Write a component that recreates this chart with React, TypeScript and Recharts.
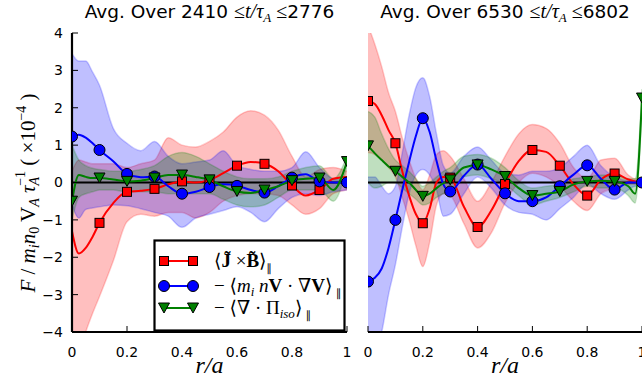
import React from 'react';
import { ComposedChart, Area, Line, XAxis, YAxis, ReferenceLine } from 'recharts';

// ---------- data: left panel (2410 <= t/tauA <= 2776) ----------
const leftR = [0, 0.025, 0.05, 0.075, 0.1, 0.15, 0.2, 0.25, 0.3, 0.35, 0.4, 0.45, 0.5, 0.55, 0.6, 0.65, 0.7, 0.75, 0.8, 0.85, 0.9, 0.95, 1.0];
const leftRed = [-1.3, -1.9, -1.75, -1.45, -1.08, -0.55, -0.25, -0.22, -0.17, -0.05, 0.03, 0.0, 0.07, 0.25, 0.45, 0.55, 0.5, 0.3, -0.08, -0.35, -0.2, 0.1, 0.15];
const leftRedLow = [-5, -4.6, -4.0, -3.5, -3.05, -2.1, -1.05, -0.85, -0.9, -0.8, -0.8, -0.95, -0.8, -0.5, -0.35, -0.3, -0.3, -0.35, -0.6, -0.85, -0.7, -0.3, -0.2];
const leftRedHigh = [0.3, 0.6, 0.55, 0.5, 0.5, 0.5, 0.4, 0.5, 0.6, 1.2, 1.0, 0.95, 1.1, 1.35, 1.75, 1.92, 1.8, 1.4, 0.7, 0.15, 0.35, 0.4, 0.3];
const leftBlue = [1.23, 1.28, 1.2, 1.05, 0.87, 0.57, 0.23, 0.14, 0.16, -0.1, -0.3, -0.25, -0.12, -0.05, -0.09, -0.2, -0.27, -0.1, 0.13, 0.22, 0.03, 0.0, 0.0];
const leftBlueLow = [-0.6, -0.95, -0.72, -0.68, -0.65, -0.6, -0.62, -0.7, -0.8, -0.9, -1.2, -0.95, -0.85, -0.75, -0.65, -0.8, -1.05, -0.7, -0.4, -0.3, -0.35, -0.25, -0.2];
const leftBlueHigh = [3.45, 3.25, 3.25, 2.95, 2.6, 1.45, 1.05, 0.85, 1.1, 0.7, 0.5, 0.55, 0.6, 0.85, 0.45, 0.35, 0.3, 0.3, 0.4, 0.82, 0.4, 0.1, 0.05];
const leftGreen = [-0.5, 0.2, 0.15, 0.12, 0.12, 0.08, 0.03, 0.05, 0.12, 0.2, 0.2, 0.15, 0.07, -0.1, -0.24, -0.28, -0.2, -0.1, 0.05, 0.1, 0.12, -0.2, 0.56];
const leftGreenLow = [-1.0, -0.4, -0.3, -0.25, -0.2, -0.2, -0.25, -0.25, -0.25, -0.3, -0.3, -0.3, -0.3, -0.45, -0.6, -0.65, -0.6, -0.4, -0.2, -0.2, -0.2, -0.5, 0.4];
const leftGreenHigh = [1.0, 0.6, 0.45, 0.38, 0.35, 0.3, 0.3, 0.35, 0.45, 0.7, 0.8, 0.7, 0.5, 0.3, 0.15, 0.1, 0.1, 0.15, 0.3, 0.4, 0.45, 0.1, 0.7];
const leftRedMarks = [0.1, 0.2, 0.3, 0.4, 0.5, 0.6, 0.7, 0.8, 0.9];
const leftBlueMarks = [0, 0.1, 0.2, 0.3, 0.4, 0.5, 0.6, 0.7, 0.8, 0.9, 1.0];
const leftGreenMarks = [0, 0.1, 0.2, 0.3, 0.4, 0.5, 0.6, 0.7, 0.8, 0.9, 1.0];

// ---------- data: right panel (6530 <= t/tauA <= 6802) ----------
const rightR = [0, 0.025, 0.05, 0.075, 0.1, 0.125, 0.15, 0.175, 0.2, 0.225, 0.25, 0.275, 0.3, 0.35, 0.4, 0.45, 0.5, 0.55, 0.6, 0.65, 0.7, 0.75, 0.8, 0.85, 0.9, 0.95, 0.975, 1.0];
const rightRed = [2.18, 2.1, 1.8, 1.4, 1.05, 0.3, -0.35, -0.85, -1.09, -0.7, 0.0, 0.15, 0.13, -0.65, -1.19, -0.75, -0.04, 0.57, 0.87, 0.82, 0.45, -0.05, -0.35, 0.08, 0.24, 0.08, 0.03, 0.0];
const rightRedLow = [0.8, 0.75, 0.6, 0.4, 0.15, -0.4, -1.0, -1.7, -2.25, -1.6, -0.6, -0.3, -0.35, -1.1, -1.75, -1.35, -0.55, 0.0, 0.25, 0.15, -0.1, -0.5, -0.75, -0.3, -0.15, -0.05, -0.05, -0.1];
const rightRedHigh = [4.2, 3.7, 3.1, 2.4, 1.9, 1.2, 0.6, 0.1, -0.2, 0.2, 0.75, 0.85, 0.7, 0.1, -0.5, 0.0, 0.7, 1.3, 1.55, 1.45, 1.05, 0.4, 0.1, 0.6, 0.65, 0.2, 0.1, 0.1];
const rightBlue = [-2.65, -2.55, -2.3, -1.75, -1.0, -0.2, 0.55, 1.25, 1.72, 1.35, 0.58, -0.05, -0.24, 0.18, 0.48, 0.1, -0.29, -0.5, -0.5, -0.4, -0.1, 0.21, 0.46, 0.1, -0.19, 0.0, 0.0, 0.0];
const rightBlueLow = [-4.8, -4.6, -4.0, -3.0, -2.2, -1.2, -0.3, 0.2, 0.35, 0.2, -0.2, -0.9, -0.85, -0.3, 0.15, -0.15, -0.6, -0.8, -0.85, -1.0, -0.7, -0.4, -0.05, -0.3, -0.45, -0.2, -0.1, -0.1];
const rightBlueHigh = [0.15, 0.15, -0.1, -0.3, -0.1, 0.8, 1.8, 2.55, 2.8, 2.3, 1.3, 0.45, 0.25, 0.7, 0.95, 0.6, 0.25, 0.2, 0.3, 0.3, 0.4, 0.7, 1.0, 0.45, 0.15, 0.05, 0.05, 0.05];
const rightGreen = [0.98, 0.78, 0.6, 0.43, 0.3, 0.15, 0.0, -0.2, -0.37, -0.3, -0.15, -0.02, 0.07, 0.4, 0.47, 0.35, 0.16, -0.15, -0.35, -0.3, -0.24, -0.05, 0.03, 0.05, 0.03, -0.1, -0.3, 2.26];
const rightGreenLow = [0.0, -0.15, -0.1, 0.0, 0.0, -0.15, -0.3, -0.45, -0.6, -0.55, -0.4, -0.3, -0.2, 0.15, 0.2, 0.1, -0.05, -0.35, -0.6, -0.5, -0.4, -0.25, -0.1, -0.15, -0.15, -0.35, -0.55, 2.0];
const rightGreenHigh = [1.9, 1.75, 1.3, 0.9, 0.6, 0.45, 0.3, 0.1, -0.1, 0.0, 0.15, 0.3, 0.4, 0.7, 0.75, 0.65, 0.4, 0.05, -0.15, -0.1, -0.05, 0.1, 0.15, 0.2, 0.2, 0.1, 0.1, 2.5];
const rightRedMarks = [0, 0.1, 0.2, 0.3, 0.4, 0.5, 0.6, 0.7, 0.8, 0.9];
const rightBlueMarks = [0, 0.1, 0.2, 0.3, 0.4, 0.5, 0.6, 0.7, 0.8, 0.9, 1.0];
const rightGreenMarks = [0, 0.1, 0.2, 0.3, 0.4, 0.5, 0.6, 0.7, 0.8, 0.9, 1.0];

// ---------- axes / text ----------
const xTicks = [0, 0.2, 0.4, 0.6, 0.8, 1];
const yTicks = [-4, -3, -2, -1, 0, 1, 2, 3, 4];
const leftTitleRange = ['2410', '2776'];
const rightTitleRange = ['6530', '6802'];

const RED = '#ff0000';
const BLUE = '#0000ff';
const GREEN = '#008000';
const SERIF = '"Liberation Serif", "DejaVu Serif", serif';
const SANS = '"DejaVu Sans", sans-serif';

type Row = Record<string, any>;

function buildRows(
  r: number[], red: number[], redLo: number[], redHi: number[],
  blue: number[], blueLo: number[], blueHi: number[],
  green: number[], greenLo: number[], greenHi: number[],
): Row[] {
  return r.map((x, i) => ({
    r: x,
    red: red[i], redBand: [redLo[i], redHi[i]],
    blue: blue[i], blueBand: [blueLo[i], blueHi[i]],
    green: green[i], greenBand: [greenLo[i], greenHi[i]],
  }));
}

const leftRows = buildRows(leftR, leftRed, leftRedLow, leftRedHigh, leftBlue, leftBlueLow, leftBlueHigh, leftGreen, leftGreenLow, leftGreenHigh);
const rightRows = buildRows(rightR, rightRed, rightRedLow, rightRedHigh, rightBlue, rightBlueLow, rightBlueHigh, rightGreen, rightGreenLow, rightGreenHigh);

function Marker({ kind, cx, cy }: { kind: string; cx: number; cy: number }) {
  if (kind === 'square') {
    return <rect x={cx - 4.5} y={cy - 4.5} width={9} height={9} fill={RED} stroke="#000" strokeWidth={1} />;
  }
  if (kind === 'circle') {
    return <circle cx={cx} cy={cy} r={5.5} fill={BLUE} stroke="#000" strokeWidth={1} />;
  }
  return (
    <polygon
      points={`${cx - 5.5},${cy - 5} ${cx + 5.5},${cy - 5} ${cx},${cy + 5}`}
      fill={GREEN}
      stroke="#000"
      strokeWidth={1}
    />
  );
}

const makeDot = (marks: number[], kind: string, tag: string) => (props: any) => {
  const { cx, cy, payload, index } = props;
  const key = `${tag}-${index}`;
  if (cx == null || cy == null || !payload || !marks.some((m) => Math.abs(m - payload.r) < 1e-6)) {
    return <g key={key} />;
  }
  return (
    <g key={key}>
      <Marker kind={kind} cx={cx} cy={cy} />
    </g>
  );
};

const fmtY = (v: number) => (v < 0 ? `\u2212${Math.abs(v)}` : `${v}`);
const fmtX = (v: number) => `${v}`;
const blank = () => '';

function Panel(props: {
  rows: Row[]; left: number; width: number; marginLeft: number; marginRight: number;
  yAxisWidth: number; showY: boolean; marks: number[][]; tag: string;
}) {
  const { rows, left, width, marginLeft, marginRight, yAxisWidth, showY, marks, tag } = props;
  const tickFont = { fontSize: 14, fill: '#000', fontFamily: SANS };
  const axisLine = { stroke: '#000', strokeWidth: 2.2 };
  const tickLine = { stroke: '#000', strokeWidth: 1 };
  return (
    <div style={{ position: 'absolute', left, top: 0 }}>
      <ComposedChart
        width={width}
        height={388}
        data={rows}
        margin={{ top: 33, right: marginRight, bottom: 26, left: marginLeft }}
      >
        <Area type="monotone" dataKey="redBand" fill={RED} fillOpacity={0.25} stroke={RED} strokeOpacity={0.2} strokeWidth={1.5} isAnimationActive={false} dot={false} activeDot={false} />
        <Area type="monotone" dataKey="blueBand" fill={BLUE} fillOpacity={0.25} stroke={BLUE} strokeOpacity={0.2} strokeWidth={1.5} isAnimationActive={false} dot={false} activeDot={false} />
        <Area type="monotone" dataKey="greenBand" fill={GREEN} fillOpacity={0.25} stroke={GREEN} strokeOpacity={0.2} strokeWidth={1.5} isAnimationActive={false} dot={false} activeDot={false} />
        <ReferenceLine y={0} stroke="#000" strokeWidth={2.2} />
        <Line type="monotone" dataKey="red" stroke={RED} strokeWidth={2} dot={makeDot(marks[0], 'square', tag + 'r')} activeDot={false} isAnimationActive={false} />
        <Line type="monotone" dataKey="blue" stroke={BLUE} strokeWidth={2} dot={makeDot(marks[1], 'circle', tag + 'b')} activeDot={false} isAnimationActive={false} />
        <Line type="monotone" dataKey="green" stroke={GREEN} strokeWidth={2} dot={makeDot(marks[2], 'tri', tag + 'g')} activeDot={false} isAnimationActive={false} />
        <XAxis
          dataKey="r" type="number" domain={[0, 1]} ticks={xTicks} interval={0}
          height={30} tickSize={-6} tickMargin={21} tick={tickFont} tickFormatter={fmtX}
          axisLine={axisLine} tickLine={tickLine} allowDataOverflow
        />
        <XAxis
          xAxisId="top" orientation="top" dataKey="r" type="number" domain={[0, 1]} ticks={xTicks} interval={0}
          height={0} tickSize={-6} tickFormatter={blank} tick={tickFont}
          axisLine={axisLine} tickLine={tickLine} allowDataOverflow
        />
        <YAxis
          type="number" domain={[-4, 4]} ticks={yTicks} interval={0} width={yAxisWidth}
          tickSize={-6} tickMargin={15} tick={tickFont} tickFormatter={showY ? fmtY : blank}
          axisLine={axisLine} tickLine={tickLine} allowDataOverflow
        />
        <YAxis
          yAxisId="right" orientation="right" type="number" domain={[-4, 4]} ticks={yTicks} interval={0} width={0}
          tickSize={-6} tickFormatter={blank} tick={tickFont}
          axisLine={axisLine} tickLine={tickLine} allowDataOverflow
        />
      </ComposedChart>
    </div>
  );
}

function Title({ cx, range }: { cx: number; range: string[] }) {
  return (
    <text x={cx} y={18} textAnchor="middle" fontSize={18.5} fontFamily={SANS} fill="#000">
      <tspan>{`Avg. Over ${range[0]} `}</tspan>
      <tspan fontFamily={SERIF} fontSize={20}>≤</tspan>
      <tspan fontFamily={SERIF} fontStyle="italic" fontSize={20}>t/τ</tspan>
      <tspan fontFamily={SERIF} fontStyle="italic" fontSize={13} dy={4}>A</tspan>
      <tspan fontFamily={SERIF} fontSize={20} dy={-4}>{' ≤'}</tspan>
      <tspan>{range[1]}</tspan>
    </text>
  );
}

const PAR = { fontFamily: SANS, fontSize: 11, fill: '#000' };

function LegendRow({ y, kind, color, children }: { y: number; kind: string; color: string; children: React.ReactNode }) {
  return (
    <g>
      <line x1={164} y1={y} x2={193} y2={y} stroke={color} strokeWidth={2} />
      <Marker kind={kind} cx={164} cy={y} />
      <Marker kind={kind} cx={193} cy={y} />
      <text x={214} y={y + 6} fontSize={19} fontFamily={SERIF} fill="#000">
        {children}
      </text>
    </g>
  );
}

function Overlay() {
  return (
    <svg width={643} height={388} style={{ position: 'absolute', left: 0, top: 0, pointerEvents: 'none' }}>
      <Title cx={209.5} range={leftTitleRange} />
      <Title cx={505} range={rightTitleRange} />
      {/* y label */}
      <text transform="rotate(-90)" x={-193} y={35} textAnchor="middle" fontSize={21} fontFamily={SERIF} fill="#000">
        <tspan fontStyle="italic">F</tspan>
        <tspan>{' / '}</tspan>
        <tspan fontStyle="italic">m</tspan>
        <tspan fontStyle="italic" fontSize={14} dy={4}>i</tspan>
        <tspan fontStyle="italic" dy={-4}>n</tspan>
        <tspan fontSize={14} dy={4}>0</tspan>
        <tspan dy={-4}>{' V'}</tspan>
        <tspan fontStyle="italic" fontSize={14} dy={4}>A</tspan>
        <tspan fontStyle="italic" dy={-4}>{' τ'}</tspan>
        <tspan fontStyle="italic" fontSize={14} dy={4}>A</tspan>
        <tspan fontSize={14} dx={-9} dy={-14}>−1</tspan>
        <tspan dy={10}>{'  ( ×10'}</tspan>
        <tspan fontSize={14} dy={-9}>−4</tspan>
        <tspan dy={9}>{' )'}</tspan>
      </text>
      {/* x labels */}
      <text x={209.5} y={373} textAnchor="middle" fontSize={24} fontFamily={SERIF} fontStyle="italic" fill="#000">r/a</text>
      <text x={505} y={373} textAnchor="middle" fontSize={24} fontFamily={SERIF} fontStyle="italic" fill="#000">r/a</text>
      {/* legend */}
      <rect x={154.5} y={240.5} width={190} height={90} fill="#fff" stroke="#000" strokeWidth={2.2} />
      <LegendRow y={261} kind="square" color={RED}>
        <tspan>⟨</tspan>
        <tspan fontWeight="bold">{'J\u0303'}</tspan>
        <tspan>{' ×'}</tspan>
        <tspan fontWeight="bold">{'B\u0303'}</tspan>
        <tspan>⟩</tspan>
        <tspan {...PAR} dy={5}>{'\u2225'}</tspan>
      </LegendRow>
      <LegendRow y={286} kind="circle" color={BLUE}>
        <tspan>{'− ⟨'}</tspan>
        <tspan fontStyle="italic">m</tspan>
        <tspan fontStyle="italic" fontSize={13} dy={4}>i</tspan>
        <tspan fontStyle="italic" dy={-4}>{' n'}</tspan>
        <tspan fontWeight="bold">V</tspan>
        <tspan>{' · ∇'}</tspan>
        <tspan fontWeight="bold">V</tspan>
        <tspan>⟩</tspan>
        <tspan {...PAR} dy={5}>{' \u2225'}</tspan>
      </LegendRow>
      <LegendRow y={308} kind="tri" color={GREEN}>
        <tspan>{'− ⟨∇ · Π'}</tspan>
        <tspan fontStyle="italic" fontSize={13} dy={4}>iso</tspan>
        <tspan dy={-4}>⟩</tspan>
        <tspan {...PAR} dy={5}>{' \u2225'}</tspan>
      </LegendRow>
    </svg>
  );
}

export default function App() {
  return (
    <div style={{ position: 'absolute', left: 0, top: 0, width: 643, height: 388, background: '#fff', overflow: 'hidden' }}>
      <Panel rows={leftRows} left={0} width={356} marginLeft={32} marginRight={9} yAxisWidth={40} showY marks={[leftRedMarks, leftBlueMarks, leftGreenMarks]} tag="L" />
      <Panel rows={rightRows} left={352} width={290} marginLeft={16} marginRight={0} yAxisWidth={0} showY={false} marks={[rightRedMarks, rightBlueMarks, rightGreenMarks]} tag="R" />
      <Overlay />
    </div>
  );
}
